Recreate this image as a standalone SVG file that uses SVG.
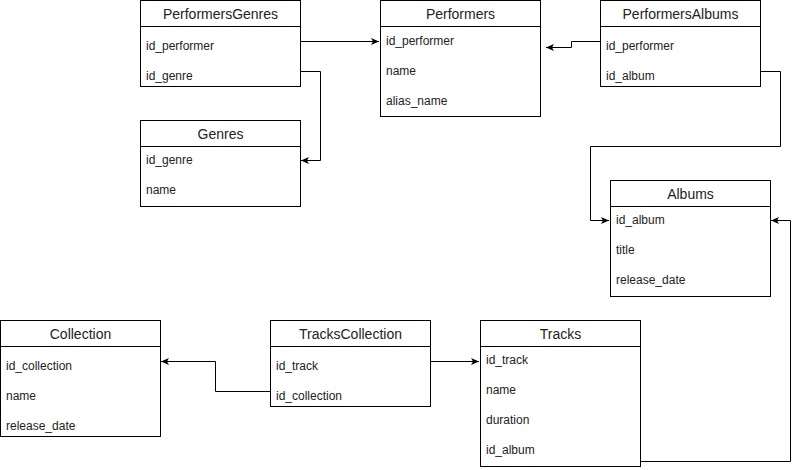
<svg xmlns="http://www.w3.org/2000/svg" width="799" height="470" viewBox="0 0 799 470">
<defs>
<style>
.box{fill:#fff;stroke:#000;stroke-width:1}
.sep{stroke:#000;stroke-width:1;fill:none}
.hdr{font-family:"Liberation Sans",Arial,Helvetica,sans-serif;font-size:14px;fill:#222;text-anchor:middle}
.row{font-family:"Liberation Sans",Arial,Helvetica,sans-serif;font-size:12px;fill:#222}
.edge{fill:none;stroke:#000;stroke-width:1}
</style>
<marker id="arr" markerUnits="userSpaceOnUse" markerWidth="9" markerHeight="9" viewBox="0 0 9 9" refX="8" refY="4.5" orient="auto">
<path d="M0,1 L8,4.5 L0,8 L2,4.5 Z" fill="#000"/>
</marker>
</defs>
<rect width="799" height="470" fill="#fff"/>

<g id="connectors">
<path class="edge" d="M300,41.5 H379" marker-end="url(#arr)"/>
<path class="edge" d="M300,71.5 H320.5 V160.5 H301" marker-end="url(#arr)"/>
<path class="edge" d="M600,41.5 H571.5 V47.5 H546" marker-end="url(#arr)"/>
<path class="edge" d="M760,71.5 H780.5 V146.5 H590.5 V220.5 H609" marker-end="url(#arr)"/>
<path class="edge" d="M640,461.5 H790.5 V220.5 H771" marker-end="url(#arr)"/>
<path class="edge" d="M270,391.5 H215.5 V361.5 H161" marker-end="url(#arr)"/>
<path class="edge" d="M430,361.5 H479" marker-end="url(#arr)"/>
</g>

<g id="PerformersGenres">
<rect class="box" x="140.5" y="0.5" width="160" height="86"/>
<path class="sep" d="M140.5,26.5 H300.5"/>
<text class="hdr" x="220.5" y="19">PerformersGenres</text>
<text class="row" x="146" y="50">id_performer</text>
<text class="row" x="146" y="80">id_genre</text>
</g>

<g id="Performers">
<rect class="box" x="380.5" y="0.5" width="160" height="116"/>
<path class="sep" d="M380.5,26.5 H540.5"/>
<text class="hdr" x="460.5" y="19">Performers</text>
<text class="row" x="386" y="45">id_performer</text>
<text class="row" x="386" y="75">name</text>
<text class="row" x="386" y="105">alias_name</text>
</g>

<g id="PerformersAlbums">
<rect class="box" x="600.5" y="0.5" width="160" height="86"/>
<path class="sep" d="M600.5,26.5 H760.5"/>
<text class="hdr" x="680.5" y="19">PerformersAlbums</text>
<text class="row" x="606" y="50">id_performer</text>
<text class="row" x="606" y="80">id_album</text>
</g>

<g id="Genres">
<rect class="box" x="140.5" y="120.5" width="160" height="86"/>
<path class="sep" d="M140.5,146.5 H300.5"/>
<text class="hdr" x="220.5" y="139">Genres</text>
<text class="row" x="146" y="164">id_genre</text>
<text class="row" x="146" y="194">name</text>
</g>

<g id="Albums">
<rect class="box" x="610.5" y="180.5" width="160" height="116"/>
<path class="sep" d="M610.5,206.5 H770.5"/>
<text class="hdr" x="690.5" y="199">Albums</text>
<text class="row" x="616" y="224">id_album</text>
<text class="row" x="616" y="254">title</text>
<text class="row" x="616" y="284">release_date</text>
</g>

<g id="Collection">
<rect class="box" x="0.5" y="320.5" width="160" height="116"/>
<path class="sep" d="M0.5,346.5 H160.5"/>
<text class="hdr" x="80.5" y="339">Collection</text>
<text class="row" x="6" y="370">id_collection</text>
<text class="row" x="6" y="400">name</text>
<text class="row" x="6" y="430">release_date</text>
</g>

<g id="TracksCollection">
<rect class="box" x="270.5" y="320.5" width="160" height="86"/>
<path class="sep" d="M270.5,346.5 H430.5"/>
<text class="hdr" x="350.5" y="339">TracksCollection</text>
<text class="row" x="276" y="370">id_track</text>
<text class="row" x="276" y="400">id_collection</text>
</g>

<g id="Tracks">
<rect class="box" x="480.5" y="320.5" width="160" height="146"/>
<path class="sep" d="M480.5,346.5 H640.5"/>
<text class="hdr" x="560.5" y="339">Tracks</text>
<text class="row" x="486" y="364">id_track</text>
<text class="row" x="486" y="394">name</text>
<text class="row" x="486" y="424">duration</text>
<text class="row" x="486" y="454">id_album</text>
</g>
</svg>
